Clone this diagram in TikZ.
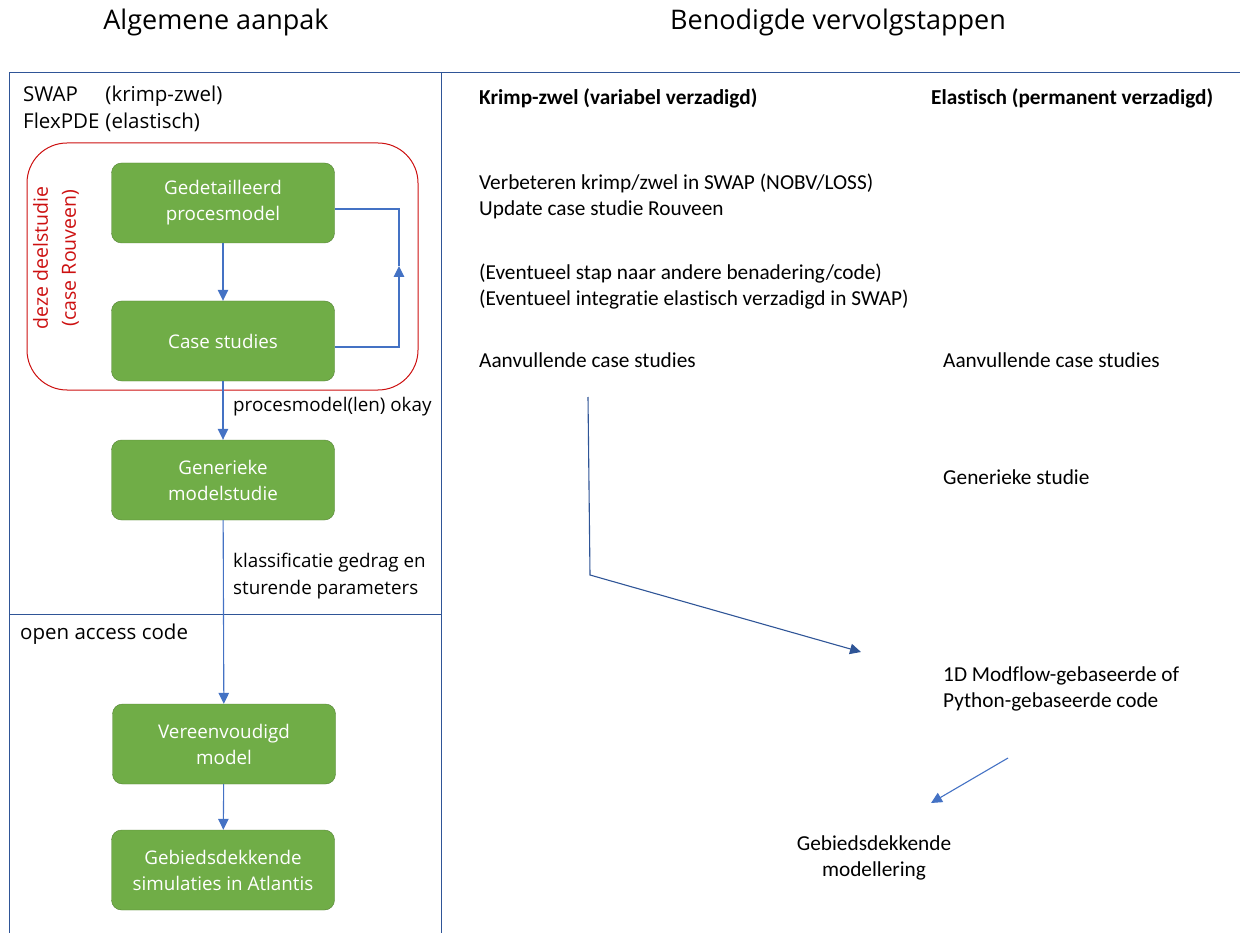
\documentclass[tikz,border=0pt]{standalone}
\usepackage{fontspec}
\setmainfont{Open Sans}
\newfontfamily\carlito[Ligatures=NoCommon]{Carlito}
\usetikzlibrary{arrows.meta}
\definecolor{boxgreen}{RGB}{112,173,71}
\definecolor{boxedge}{RGB}{84,130,53}
\definecolor{frameblue}{RGB}{47,85,151}
\definecolor{flowblue}{RGB}{68,114,196}
\definecolor{studyred}{RGB}{204,16,16}

\begin{document}
\begin{tikzpicture}[x=1pt,y=-1pt,
  stap/.style={draw=boxedge,fill=boxgreen,rounded corners=10pt,minimum width=223pt,
    minimum height=80pt,text=white,align=center,font=\fontsize{18.8}{26}\selectfont},
  flow/.style={draw=flowblue,line width=1.1pt,-{Triangle[length=11pt,width=10.5pt]}},
  kop/.style={font=\fontsize{27}{32}\selectfont},
  tekst/.style={anchor=west,align=left,inner sep=0pt,font=\fontsize{18.8}{27}\selectfont},
  rechts/.style={anchor=west,align=left,inner sep=0pt,font=\carlito\fontsize{21.3}{26}\selectfont},
  vet/.style={font=\carlito\bfseries\fontsize{21.3}{26}\selectfont}]

  \useasboundingbox (0,0) rectangle (1240,933);

  \node[kop] (algemeen) at (216,22) {Algemene aanpak};
  \node[kop] (vervolg) at (838,22) {Benodigde vervolgstappen};

  \draw[frameblue,line width=1pt] (9,933) |- (1240,73);
  \draw[frameblue,line width=1pt] (441,73) -- (441,933);
  \draw[frameblue,line width=1pt] (9,614) -- (441,614);

  \node[tekst,font=\fontsize{20.5}{27}\selectfont] (software) at (23,110)
    {\begin{tabular}{@{}l@{\hspace{6pt}}l@{}}SWAP & (krimp-zwel)\\ FlexPDE & (elastisch)\end{tabular}};

  \draw[studyred,line width=1pt,rounded corners=40pt] (27,143) rectangle (418,390);
  \node[rotate=90,text=studyred,align=center,font=\fontsize{19.5}{28}\selectfont]
    (deelstudie) at (56,258) {deze deelstudie\\(case Rouveen)};

  \node[stap] (detail) at (223,203) {Gedetailleerd\\procesmodel};
  \node[stap] (cases) at (223,341) {Case studies};
  \node[stap] (generiek) at (223,480) {Generieke\\modelstudie};
  \node[stap] (eenvoud) at (224,744) {Vereenvoudigd\\model};
  \node[stap] (atlantis) at (223,870) {Gebiedsdekkende\\simulaties in Atlantis};

  \coordinate (terug) at (399,266);
  \draw[flow] (detail) -- (cases);
  \draw[flow] (cases) -- (generiek);
  \draw[flow] (generiek) -- (eenvoud);
  \draw[flow] (eenvoud) -- (atlantis);
  \draw[flow] ([yshift=-6pt]cases.east) -| (terug);
  \draw[flowblue,line width=1.1pt] (terug) |- ([yshift=-6pt]detail.east);

  \node[tekst] (okay) at (233,407) {procesmodel(len) okay};
  \node[tekst] (klassificatie) at (233,576) {klassificatie gedrag en\\sturende parameters};
  \node[tekst,font=\fontsize{20.5}{27}\selectfont] (opencode) at (20,634) {open access code};

  \node[rechts,vet] (krimp) at (479,98) {Krimp-zwel (variabel verzadigd)};
  \node[rechts,vet] (elastisch) at (931,98) {Elastisch (permanent verzadigd)};
  \node[rechts] (verbeteren) at (479,196) {Verbeteren krimp/zwel in SWAP (NOBV/LOSS)\\
    Update case studie Rouveen};
  \node[rechts] (eventueel) at (479,287) {(Eventueel stap naar andere benadering/code)\\
    (Eventueel integratie elastisch verzadigd in SWAP)};
  \node[rechts] (aanvullend) at (479,360) {Aanvullende case studies};
  \node[rechts] (aanvullendel) at (943,360) {Aanvullende case studies};
  \node[rechts] (generiekestudie) at (943,477) {Generieke studie};
  \node[rechts] (modflow) at (943,689) {1D Modflow-gebaseerde of\\Python-gebaseerde code};
  \node[rechts,anchor=center,align=center] (gebied) at (874,858) {Gebiedsdekkende\\modellering};

  \coordinate (start) at (588,397);
  \coordinate (knik) at (590,575);
  \coordinate (doel) at (861,652);
  \coordinate (vanmodflow) at (1008,758);
  \coordinate (naargebied) at (931,803);
  \draw[flow,draw=frameblue] (start) -- (knik) -- (doel);
  \draw[flow] (vanmodflow) -- (naargebied);
\end{tikzpicture}
\end{document}
